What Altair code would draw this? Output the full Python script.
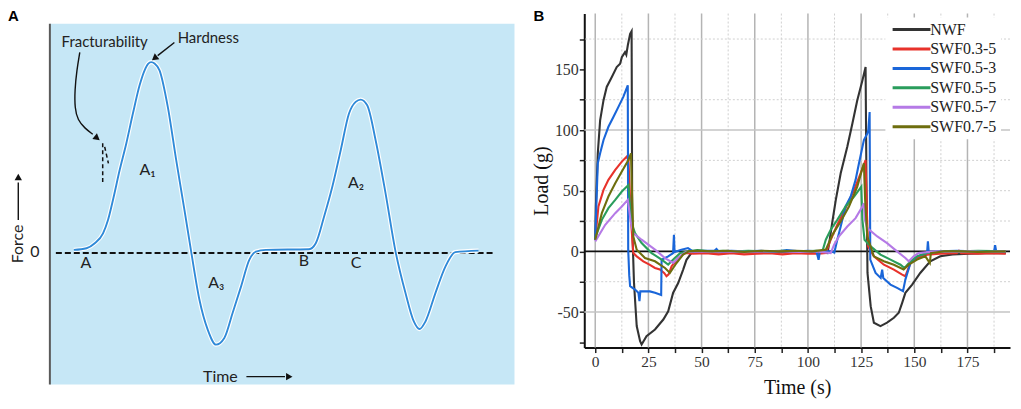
import altair as alt
import pandas as pd

# ---------------- Panel A : schematic texture-profile curve ----------------
A_TIME = [5.15, 7.88, 9.66, 11.44, 12.51, 13.58, 15.02, 16.46, 17.88, 19.31, 20.39, 21.14, 21.82, 22.53,
          23.6, 25.39, 27.19, 28.97, 30.41, 32.19, 33.97, 35.77, 37.55, 39.33, 41.14, 42.92, 44.36, 46.5,
          55.79, 57.23, 59.01, 60.79, 62.6, 64.38, 65.82, 66.89, 68.3, 70.11, 72.25, 74.4, 76.54, 78.33,
          79.55, 80.84, 82.98, 85.13, 87.27, 92.27]
A_FORCE = [1.57, 2.46, 5.08, 10.3, 17.3, 27.8, 43.5, 57.6, 73.3, 88.0, 95.9, 99.3, 100.2, 99.5,
           95.9, 76.6, 48.7, 22.5, 0.7, -24.6, -40.3, -48.2, -44.7, -31.6, -17.7, -3.7, 0.7, 1.57,
           1.94, 5.08, 19.0, 34.7, 53.95, 73.2, 79.3, 80.5, 77.5, 59.2, 31.3, 0.7, -21.1, -36.0,
           -40.0, -36.0, -21.1, -7.2, 0.4, 1.2]

A_BOX = {"t": [0], "t2": [100], "f": [-69.1], "f2": [120.4]}
A_ZERO = {"t": [1.29], "t2": [95.9], "f": [0]}

A_LABELS = ["A\u2081", "A\u2082", "A\u2083", "A", "B", "C", "0", "Time"]
A_LABEL_T = [21.0, 65.9, 35.8, 7.73, 54.7, 65.9, -3.22, 36.7]
A_LABEL_F = [43.5, 36.7, -15.7, -5.2, -4.2, -5.2, 0.5, -65.0]

A_NOTES = ["Fracturability", "Hardness"]
A_NOTE_T = [11.8, 34.1]
A_NOTE_F = [111.0, 113.1]

# arrow shafts: (group, t, f)
A_ARROWS = [("frac", 6.44, 105.3), ("frac", 5.79, 95.9), ("frac", 5.36, 85.4), ("frac", 5.36, 76.0),
            ("frac", 6.01, 69.7), ("frac", 7.51, 65.5), ("frac", 9.23, 62.3),
            ("hard", 26.8, 110.5), ("hard", 23.2, 103.6),
            ("force", -6.8, 17.3), ("force", -6.8, 37.0),
            ("time", 42.3, -65.0), ("time", 50.6, -65.0)]
A_HEADS = [(10.0, 60.6, 128), (22.7, 102.6, 232), (-6.8, 39.3, 0), (51.3, -65.0, 90)]
A_DASHES = [("d1", 11.37, 57.6), ("d1", 11.37, 35.6), ("d2", 11.8, 55.7), ("d2", 12.6, 47.0)]

xa = alt.Scale(domain=[0, 100], nice=False, zero=False)
ya = alt.Scale(domain=[-69.1, 125.7], nice=False, zero=False)


def XA(field):
    return alt.X(f"{field}:Q", scale=xa, axis=None)


def YA(field):
    return alt.Y(f"{field}:Q", scale=ya, axis=None)


FONT_A = "Lato"
box_df = pd.DataFrame(A_BOX)
bg = alt.Chart(box_df).mark_rect(color="#c6e7f6").encode(x=XA("t"), x2="t2:Q", y=YA("f"), y2="f2:Q")
border = alt.Chart(box_df).mark_rule(color="#5a5a5a", strokeWidth=2).encode(x=XA("t"), y=YA("f"), y2="f2:Q")
zero = alt.Chart(pd.DataFrame(A_ZERO)).mark_rule(color="#111", strokeWidth=2, strokeDash=[6, 3]).encode(
    x=XA("t"), x2="t2:Q", y=YA("f"))
curve_df = pd.DataFrame({"t": A_TIME, "f": A_FORCE})
halo = alt.Chart(curve_df).mark_line(color="white", strokeWidth=4.2, interpolate="monotone").encode(
    x=XA("t"), y=YA("f"))
curve = alt.Chart(curve_df).mark_line(color="#2f8ad8", strokeWidth=1.9, interpolate="monotone").encode(
    x=XA("t"), y=YA("f"))
arr_df = pd.DataFrame(A_ARROWS, columns=["g", "t", "f"]).reset_index().rename(columns={"index": "o"})
arrows = alt.Chart(arr_df).mark_line(color="#111", strokeWidth=1.4, interpolate="basis").encode(
    x=XA("t"), y=YA("f"), detail="g:N", order="o:Q")
heads = alt.Chart(pd.DataFrame(A_HEADS, columns=["t", "f", "ang"])).mark_point(
    shape="triangle", filled=True, color="#111", size=55, opacity=1).encode(
    x=XA("t"), y=YA("f"), angle=alt.Angle("ang:Q", scale=None))
dash_df = pd.DataFrame(A_DASHES, columns=["g", "t", "f"]).reset_index().rename(columns={"index": "o"})
dashes = alt.Chart(dash_df).mark_line(color="#111", strokeWidth=1.5, strokeDash=[4, 3]).encode(
    x=XA("t"), y=YA("f"), detail="g:N", order="o:Q")
labels = alt.Chart(pd.DataFrame({"txt": A_LABELS, "t": A_LABEL_T, "f": A_LABEL_F})).mark_text(
    font=FONT_A, fontSize=16, color="#222", align="center", baseline="middle").encode(
    x=XA("t"), y=YA("f"), text="txt:N")
notes = alt.Chart(pd.DataFrame({"txt": A_NOTES, "t": A_NOTE_T, "f": A_NOTE_F})).mark_text(
    font=FONT_A, fontSize=15, color="#222", align="center", baseline="middle").encode(
    x=XA("t"), y=YA("f"), text="txt:N")
force = alt.Chart(pd.DataFrame({"txt": ["Force"], "t": [-6.9], "f": [4.7]})).mark_text(
    font=FONT_A, fontSize=16, color="#222", align="center", baseline="middle", angle=270).encode(
    x=XA("t"), y=YA("f"), text="txt:N")
letter_a = alt.Chart(pd.DataFrame({"txt": ["A"]})).mark_text(
    font="Liberation Sans", fontWeight="bold", fontSize=15, color="#000", align="left", baseline="top").encode(
    x=alt.value(-42), y=alt.value(-5), text="txt:N")

panel_a = alt.layer(bg, border, zero, halo, curve, arrows, heads, dashes, labels, notes, force, letter_a).properties(
    width=466, height=372)

# ---------------- Panel B : measured load curves ----------------
SERIES = ["NWF", "SWF0.3-5", "SWF0.5-3", "SWF0.5-5", "SWF0.5-7", "SWF0.7-5"]
COLORS = ["#333333", "#e8322b", "#1a66d9", "#2a9d5c", "#b57ae6", "#6e6e0e"]

NWF = [(0, 9.6), (0.3, 37), (1.2, 80.8), (2.3, 108), (3.9, 124.6), (5.4, 135.5), (7.8, 143.7), (10.1, 151.9),
       (11.7, 154.6), (12.5, 160), (14.0, 164.2), (14.6, 162), (15.3, 169.7), (16.4, 179.3), (17.1, 181.5),
       (17.4, 20), (18.2, -25), (18.9, -45), (19.5, -61.6), (21.1, -74), (21.8, -76.7), (24.1, -69.9),
       (28.1, -64.4), (32.0, -56.2), (34.3, -49.4), (36.6, -34.3), (39.0, -26.1), (41.3, -15.2), (42.9, -7),
       (45.2, -1.4), (50, -0.5), (58, -1), (66, -0.5), (74, -1), (82, -0.5), (90, -1), (98, -0.5), (106, -1),
       (109.2, -1.4), (110.0, 6.8), (111.5, 24.6), (113.1, 42.4), (115.4, 64.4), (118.5, 86.2), (120.9, 105.4),
       (123.2, 124.5), (125.6, 140.9), (127.1, 151.9), (127.5, 60), (128.0, -17.8), (129.5, -45.2),
       (131.0, -58.8), (134.1, -61.6), (137.2, -58.8), (140.4, -54.7), (142.7, -50.6), (144.3, -42.4),
       (145.8, -34.2), (149.0, -27.4), (152.8, -17.8), (157.5, -8.2), (162.2, -4.1), (168, -2.5), (176, -2),
       (184, -1.5), (193, -1.5)]
SWF03_5 = [(0, 9.6), (1.5, 37), (3.9, 50.7), (6.2, 58.9), (9.4, 67.1), (12.5, 74), (14.8, 78), (15.6, 76),
           (16.8, 26), (17.9, -1.4), (19.5, -4.1), (22.6, -8.2), (25.5, -11), (28.1, -13.7), (30.4, -15),
           (32.5, -18), (33.5, -20.5), (34.5, -19), (35.9, -12.3), (39.0, -5.5), (42.1, -1.4), (46, -2),
           (52, -1.5), (58, -2.5), (64, -1.5), (70, -2.5), (76, -2), (82, -1.5), (88, -2.5), (94, -1.5),
           (100, -2), (105, -2), (108.4, -1.4), (110.7, 9.6), (113.8, 21.9), (117.7, 35.6), (121.7, 50.6),
           (124.8, 64.4), (127.1, 75.3), (127.6, 37), (128.3, 4.1), (131.0, -4.1), (135.7, -11), (140.4, -15),
           (144.3, -19.2), (145.8, -20.5), (148.2, -9.6), (151.3, -5.5), (156, -2.7), (162, -2), (170, -1.5),
           (171, 0.5), (172, -1.5), (180, -2), (186, -1.5), (193, -2)]
SWF05_3 = [(0, 9.6), (0.3, 26), (1.2, 72.6), (2.3, 80.8), (3.9, 91.8), (6.2, 102.7), (8.6, 110.9),
           (10.9, 119.1), (13.2, 127.3), (15.3, 136.9), (15.5, 1.4), (16.0, -20), (16.4, -28.7), (18.7, -31.5),
           (20.3, -34.2), (20.8, -41), (21.2, -33), (22.6, -33), (25.7, -33), (28.1, -34.2), (30.4, -35.6),
           (31.0, -36), (31.2, -6.9), (34.3, -4.1), (36.6, -1.4), (37.0, 13.7), (37.3, -0.5), (40.5, 1.4),
           (43.6, 2.7), (46, 0), (50, 0.5), (56, 0.5), (57, 2), (58, 0), (64, 0.5), (70, 0), (78, 0.5),
           (84, -0.5), (90, 1), (96, 0), (100, 0.5), (104, 0), (105, -7), (105.6, 0), (110.7, 0),
           (112.4, -1), (113.8, 9.6), (115.4, 20.5), (117.7, 37), (120.1, 45.2), (122.4, 58.9), (124.0, 72.6),
           (126.3, 91.7), (127.9, 97), (128.4, 100), (129.0, 114.9), (129.3, -6.8), (131.8, -17.8),
           (134.2, -21.9), (134.9, -15), (135.4, -21.9), (138.8, -27.4), (141.9, -30.1), (144.7, -32.8),
           (145.8, -23.3), (148.2, -9.6), (151.3, -4.1), (156.0, -1.4), (156.4, 8.2), (156.8, -0.5),
           (162, 0), (170, 0.5), (178, 0), (187.5, 0), (188, 5), (188.5, 0), (193, 0)]
SWF05_5 = [(0, 11), (3.1, 26), (6.2, 35.6), (9.4, 42.4), (12.5, 49.3), (15.6, 54.7), (16.4, 37), (17.1, 23.3),
           (18.7, 15), (21.8, 6.8), (26.5, -1.4), (31.2, -6.8), (34.3, -10.9), (37.4, -5.5), (40, -1.4),
           (44, 0), (48, 1), (54, 0), (60, 0.5), (66, 0), (72, 0.5), (80, 0), (88, 0.5), (96, 0), (104, 0.5),
           (106.8, 0), (108.4, 9.6), (110.7, 17.8), (113.8, 26), (117.7, 37), (121.7, 45.2), (124.0, 50.6),
           (125.1, 53.3), (125.6, 26), (126.6, 9.6), (129.5, 4.1), (134.1, -2.7), (138.8, -6.8),
           (143.5, -11), (145.4, -13.7), (148.2, -8.2), (151.3, -4.1), (156, -1.4), (164, 0), (172, 0),
           (180, 0.5), (193, 0)]
SWF05_7 = [(0, 8.2), (4.7, 21.9), (9.4, 31.5), (12.5, 37), (15.3, 42.4), (16.8, 23.3), (17.9, 15),
           (21.8, 9.6), (28.1, 1.4), (32.8, -5.5), (36.6, -9.6), (39.8, -4.1), (42.5, -0.8), (48, 0),
           (56, -0.5), (64, 0), (72, -0.5), (80, 0), (88, 0), (96, -0.5), (104, 0), (110.7, -1.4),
           (112.3, 5.5), (114.6, 12.3), (118.5, 20.5), (122.4, 27.4), (125.6, 37), (126.3, 39.7), (126.8, 26),
           (127.9, 19.2), (132.6, 12.3), (137.2, 6.8), (141.9, 0), (145.8, -5.5), (147.4, -8.2),
           (149.7, -4.1), (152, -1.4), (160, 0), (168, -0.5), (176, 0), (184, -0.5), (193, 0)]
SWF07_5 = [(0, 9.6), (3.1, 31.5), (6.2, 45.2), (9.4, 56.2), (12.5, 65.8), (15.6, 75.3), (16.8, 80.8),
           (17.2, 53), (17.9, 12.3), (19.5, 1.4), (23.4, -5.5), (28.1, -8.2), (32.8, -13.7), (35.1, -17.8),
           (38.2, -9.6), (41.3, -2.7), (44, 0), (48, 0.5), (55, 0), (62, 0.5), (70, -0.5), (78, 0.5), (86, 0),
           (94, 0.5), (102, 0), (108.4, 1.4), (111.5, 13.7), (115.4, 24.6), (119.3, 37), (123.2, 53.3),
           (126.3, 72.6), (126.9, 42), (127.9, 12.3), (131.0, -4.1), (135.7, -8.2), (140.4, -11), (145.0, -15),
           (147.4, -11), (151.3, -6.8), (155.2, -4.1), (157.3, -9.6), (157.8, -1.4), (164, 0), (172, 0),
           (180, -0.5), (193, 0)]

X_TICKS = [i * 12.5 for i in range(16)]
Y_TICKS = [-75, -50, -25, 0, 25, 50, 75, 100, 125, 150, 175]
GRID_X_MAJOR = [0, 25, 50, 75, 100, 125, 150, 175]
GRID_X_MINOR = [12.5, 37.5, 62.5, 87.5, 112.5, 137.5, 162.5, 187.5]
GRID_Y_SOLID = [100, -50]
GRID_Y_DOTTED = [-25, 25, 50, 75, 125, 175]

rows = []
for name, pts in zip(SERIES, [NWF, SWF03_5, SWF05_3, SWF05_5, SWF05_7, SWF07_5]):
    for i, (t, v) in enumerate(pts):
        rows.append({"series": name, "t": t, "load": v, "i": i})
dfb = pd.DataFrame(rows)

xb = alt.Scale(domain=[-5.15, 195], nice=False, zero=False)
yb = alt.Scale(domain=[-79.3, 196], nice=False, zero=False)
SERIF = "Liberation Serif"

axis_common = dict(domainColor="#111", domainWidth=2, tickColor="#222", tickSize=5, tickWidth=1.5,
                   labelFont=SERIF, labelColor="#333", labelOverlap=False, labelFlush=False,
                   titleFont=SERIF, titleFontSize=20, titleFontWeight="normal", titleColor="#111", grid=False)
X_AXIS = alt.Axis(values=X_TICKS, title="Time (s)", labelFontSize=15.5, labelPadding=2, titlePadding=8,
                  labelExpr="datum.value % 25 === 0 ? '' + datum.value : ''", **axis_common)
Y_AXIS = alt.Axis(values=Y_TICKS, title="Load (g)", labelFontSize=16, labelPadding=1, titlePadding=3,
                  labelExpr="datum.value % 50 === 0 ? '' + datum.value : ''", **axis_common)


def XB(field):
    return alt.X(f"{field}:Q", scale=xb, axis=X_AXIS, title="Time (s)")


def YB(field):
    return alt.Y(f"{field}:Q", scale=yb, axis=Y_AXIS, title="Load (g)")


gx_major = alt.Chart(pd.DataFrame({"t": GRID_X_MAJOR})).mark_rule(color="#b4b4b4", strokeWidth=1.5).encode(
    x=XB("t"))
gx_minor = alt.Chart(pd.DataFrame({"t": GRID_X_MINOR})).mark_rule(
    color="#d0d0d0", strokeWidth=1, strokeDash=[2, 2]).encode(x=XB("t"))
gy_solid = alt.Chart(pd.DataFrame({"load": GRID_Y_SOLID})).mark_rule(color="#c4c4c4", strokeWidth=1.5).encode(
    y=YB("load"))
gy_dot = alt.Chart(pd.DataFrame({"load": GRID_Y_DOTTED})).mark_rule(
    color="#d0d0d0", strokeWidth=1, strokeDash=[2, 2]).encode(y=YB("load"))
zero_b = alt.Chart(pd.DataFrame({"load": [0]})).mark_rule(color="#111", strokeWidth=1.8).encode(
    y=YB("load"))

# legend swatch: a custom horizontal path 8 units long, drawn from the symbol's left edge
lines = alt.Chart(dfb).mark_line(strokeWidth=2.1).encode(
    x=XB("t"),
    y=YB("load"),
    color=alt.Color("series:N", scale=alt.Scale(domain=SERIES, range=COLORS),
                    legend=alt.Legend(orient="none", legendX=838, legendY=4, title=None,
                                      symbolType="M-1,0H7", symbolSize=90, symbolStrokeWidth=3,
                                      labelFont=SERIF, labelFontSize=16, labelColor="#222",
                                      fillColor="white", padding=4, rowPadding=3.5,
                                      labelOffset=25, labelLimit=200)),
    order="i:Q",
)
letter_b = alt.Chart(pd.DataFrame({"txt": ["B"]})).mark_text(
    font="Liberation Sans", fontWeight="bold", fontSize=15, color="#000", align="left", baseline="top").encode(
    x=alt.value(-51), y=alt.value(-5), text="txt:N")

panel_b = alt.layer(gx_major, gx_minor, gy_solid, gy_dot, zero_b, lines, letter_b).properties(
    width=427, height=335)

chart = alt.hconcat(panel_a, panel_b, spacing=70, bounds="flush").properties(
    padding={"left": 0, "right": 2, "top": 0, "bottom": 0}
).configure_view(stroke=None)

chart.save("out.html", embed_options={"renderer": "svg", "actions": False})
